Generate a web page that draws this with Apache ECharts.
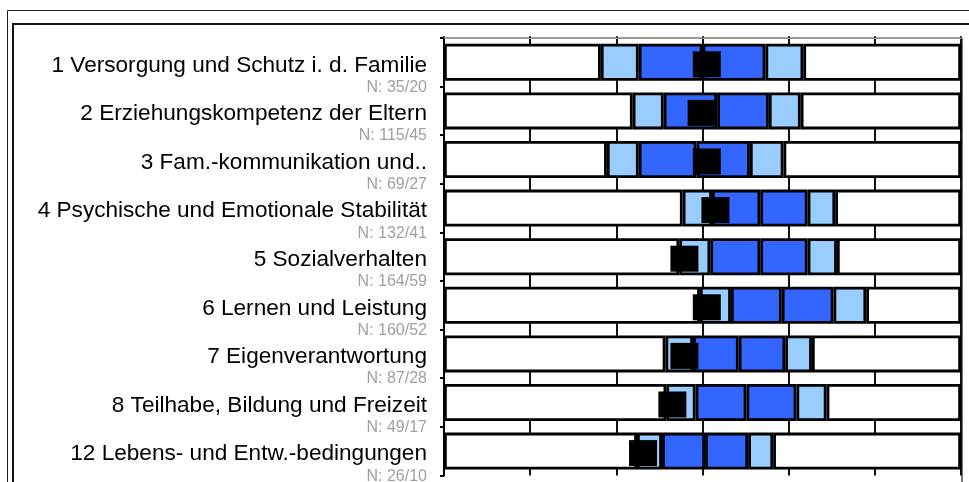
<!DOCTYPE html>
<html>
<head>
<meta charset="utf-8">
<script src="https://cdn.jsdelivr.net/npm/echarts@6/dist/echarts.min.js"></script>
<style>
html,body{margin:0;padding:0;background:#fff;}
#chart{width:969px;height:482px;}
</style>
</head>
<body>
<div id="chart"></div>
<script>
const categories = [
  '1 Versorgung und Schutz i. d. Familie',
  '2 Erziehungskompetenz der Eltern',
  '3 Fam.-kommunikation und..',
  '4 Psychische und Emotionale Stabilität',
  '5 Sozialverhalten',
  '6 Lernen und Leistung',
  '7 Eigenverantwortung',
  '8 Teilhabe, Bildung und Freizeit',
  '12 Lebens- und Entw.-bedingungen'
];
const nLabels = ['N: 35/20','N: 115/45','N: 69/27','N: 132/41','N: 164/59','N: 160/52','N: 87/28','N: 49/17','N: 26/10'];

const whiskerLow  = [1.82, 2.19, 1.89, 2.77, 2.73, 2.97, 2.57, 2.58, 2.24];
const quartile1   = [2.26, 2.55, 2.26, 3.11, 3.09, 3.33, 2.89, 2.92, 2.53];
const median      = [3.00, 3.17, 2.93, 3.67, 3.67, 3.92, 3.42, 3.51, 3.03];
const quartile3   = [3.73, 3.77, 3.55, 4.22, 4.22, 4.52, 3.96, 4.09, 3.53];
const whiskerHigh = [4.17, 4.14, 3.94, 4.54, 4.56, 4.90, 4.27, 4.44, 3.82];
const meanValue   = [3.05, 2.99, 3.05, 3.15, 2.79, 3.05, 2.79, 2.65, 2.31];

const axisMin = 0, axisMax = 6, axisStep = 1;

const chart = echarts.init(document.getElementById('chart'), null, {renderer: 'canvas'});

const diff = (a, b) => a.map((v, i) => +(v - b[i]).toFixed(3));
const segments = [
  {data: whiskerLow.map(v => v - axisMin), color: '#ffffff'},
  {data: diff(quartile1, whiskerLow), color: '#99ccff'},
  {data: diff(median, quartile1), color: '#3366ff'},
  {data: diff(quartile3, median), color: '#3366ff'},
  {data: diff(whiskerHigh, quartile3), color: '#99ccff'},
  {data: whiskerHigh.map(v => +(axisMax - v).toFixed(3)), color: '#ffffff'}
];

const series = segments.map(s => ({
  type: 'bar',
  stack: 'box',
  barWidth: 37,
  data: s.data,
  silent: true,
  itemStyle: {color: s.color, borderColor: '#000', borderWidth: 2.8, opacity: 1},
  z: 2
}));
series.push({
  type: 'scatter',
  data: meanValue.map((m, i) => [m, categories[i]]),
  symbol: 'rect',
  symbolSize: [28, 26],
  symbolOffset: [0, 2],
  itemStyle: {color: '#000', opacity: 1},
  silent: true,
  z: 5
});

const F = '"Liberation Sans", Arial, sans-serif';

chart.setOption({
  animation: false,
  backgroundColor: '#fff',
  grid: {left: 444, top: 38, width: 517, height: 437.4, outerBoundsMode: 'none', containLabel: false},
  xAxis: {
    type: 'value', position: 'top', min: axisMin, max: axisMax, interval: axisStep,
    axisLine: {show: true, lineStyle: {color: '#999', width: 2}},
    axisTick: {show: true, length: 2, lineStyle: {color: '#444', width: 2}},
    axisLabel: {show: false},
    splitLine: {show: true, lineStyle: {color: '#111', width: 2}}
  },
  yAxis: {
    type: 'category', inverse: true, data: categories,
    axisLine: {show: true, lineStyle: {color: '#000', width: 2}},
    axisTick: {show: true, length: 4, lineStyle: {color: '#000', width: 2}},
    splitLine: {show: false},
    axisLabel: {
      interval: 0, margin: 17, align: 'right', verticalAlign: 'middle',
      padding: [24, 0, 0, 0],
      formatter: (v, i) => '{a|' + v + '}\n{b|' + nLabels[i] + '}',
      rich: {
        a: {fontFamily: F, fontSize: 22.6, color: '#000', lineHeight: 26, align: 'right'},
        b: {fontFamily: F, fontSize: 16, color: '#a0a0a0', lineHeight: 18, align: 'right'}
      }
    }
  },
  graphic: [
    {type: 'polyline', shape: {points: [[7.5, 600], [7.5, 10.5], [990, 10.5]]}, style: {stroke: '#222', lineWidth: 1, fill: null}, silent: true},
    {type: 'polyline', shape: {points: [[13, 600], [13, 24], [990, 24]]}, style: {stroke: '#111', lineWidth: 2, fill: null}, silent: true},
    {type: 'line', shape: {x1: 962, y1: 38, x2: 962, y2: 490}, style: {stroke: '#777', lineWidth: 2}, silent: true}
  ],
  series: series
});
</script>
</body>
</html>
